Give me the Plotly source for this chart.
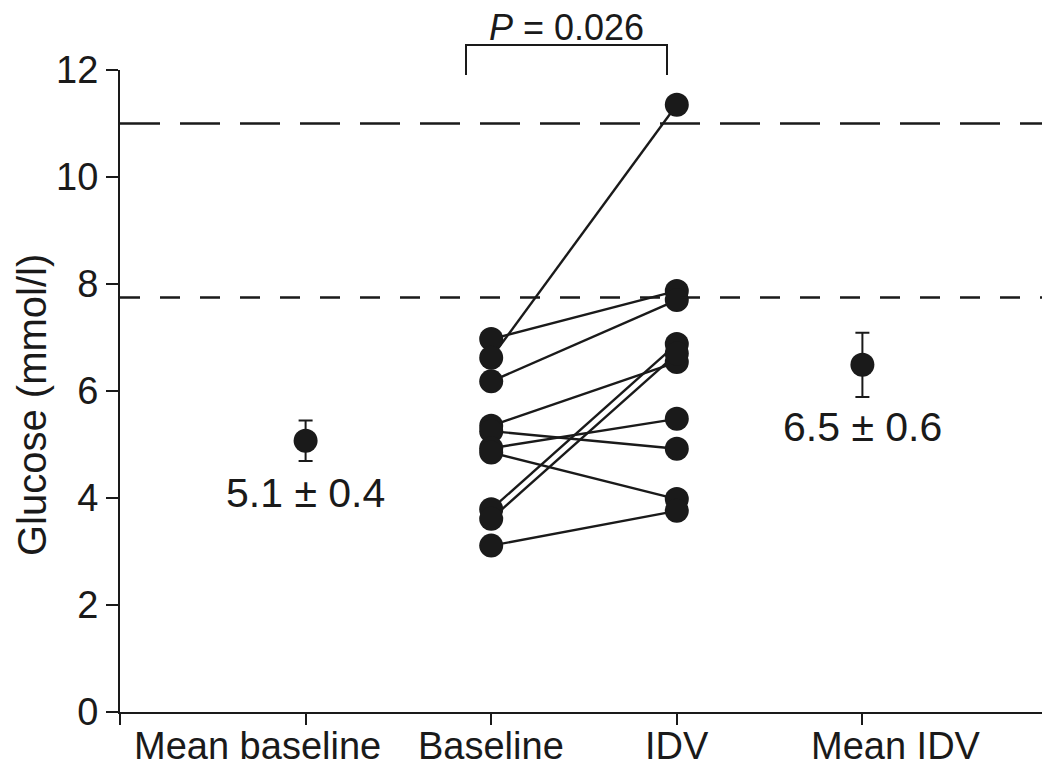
import plotly.graph_objects as go

# ---- data ----
categories = ["Mean baseline", "Baseline", "IDV", "Mean IDV"]
baseline = [6.97, 6.62, 6.18, 5.35, 5.25, 4.93, 4.85, 3.79, 3.61, 3.11]
idv      = [7.87, 11.35, 7.70, 6.54, 4.92, 5.48, 3.98, 6.88, 6.70, 3.76]
mean_values = [5.07, 6.49]
mean_errors = [0.38, 0.60]
mean_labels = ["5.1 ± 0.4", "6.5 ± 0.6"]
threshold_high = 11.0
threshold_low = 7.75
p_label = "<i>P</i>\u00a0=\u00a00.026"
y_ticks = [0, 2, 4, 6, 8, 10, 12]

# ---- layout constants (page body has an 8px margin) ----
OFF = 8
W, H = 1050 - OFF, 768 - OFF
ML, MR, MT, MB = 120 - OFF, 2, 70 - OFF, 56
PW, PH = W - ML - MR, H - MT - MB
FONT = "Arial, Liberation Sans, sans-serif"
INK = "#1a1a1a"

x_pos = {"Mean baseline": 1, "Baseline": 2, "IDV": 3, "Mean IDV": 4}
label_x = {"Mean baseline": 0.74, "Baseline": 2, "IDV": 3, "Mean IDV": 4.18}


def px_x(p):
    """reference-screen pixel x -> paper fraction"""
    return (p - OFF - ML) / PW


def px_y(p):
    """reference-screen pixel y -> paper fraction"""
    return (H - MB - (p - OFF)) / PH


fig = go.Figure()

# paired lines
for b, v in zip(baseline, idv):
    fig.add_trace(go.Scatter(
        x=[x_pos["Baseline"], x_pos["IDV"]], y=[b, v], mode="lines",
        line=dict(color=INK, width=2.4), showlegend=False, hoverinfo="skip"))

# points
fig.add_trace(go.Scatter(
    x=[x_pos["Baseline"]] * len(baseline), y=baseline, mode="markers",
    marker=dict(size=24, color=INK, line=dict(width=0)), showlegend=False))
fig.add_trace(go.Scatter(
    x=[x_pos["IDV"]] * len(idv), y=idv, mode="markers",
    marker=dict(size=24, color=INK, line=dict(width=0)), showlegend=False))

# means with error bars
fig.add_trace(go.Scatter(
    x=[x_pos["Mean baseline"], x_pos["Mean IDV"]], y=mean_values, mode="markers",
    marker=dict(size=24, color=INK, line=dict(width=0)),
    error_y=dict(type="data", array=mean_errors, visible=True,
                 color=INK, thickness=2, width=7),
    showlegend=False))

# threshold lines
fig.add_shape(type="line", xref="x", yref="y", x0=0, x1=5,
              y0=threshold_high, y1=threshold_high,
              line=dict(color=INK, width=2.5, dash="40px,20px"))
fig.add_shape(type="line", xref="x", yref="y", x0=0, x1=5,
              y0=threshold_low, y1=threshold_low,
              line=dict(color=INK, width=2.5, dash="20px,20px"))

# mean labels
fig.add_annotation(x=x_pos["Mean baseline"], y=4.09, xref="x", yref="y",
                   text=mean_labels[0], showarrow=False,
                   font=dict(family=FONT, size=41, color=INK))
fig.add_annotation(x=x_pos["Mean IDV"], y=5.33, xref="x", yref="y",
                   text=mean_labels[1], showarrow=False,
                   font=dict(family=FONT, size=41, color=INK))

# category labels
for c in categories:
    fig.add_annotation(x=label_x[c], y=px_y(746), xref="x", yref="paper",
                       text=c, showarrow=False, yanchor="middle",
                       font=dict(family=FONT, size=38, color=INK))

# significance bracket
bx0, bx1, by_top, by_bot = px_x(466), px_x(667), px_y(45), px_y(75)
fig.add_shape(type="path", xref="paper", yref="paper",
              path=f"M {bx0} {by_bot} L {bx0} {by_top} L {bx1} {by_top} L {bx1} {by_bot}",
              line=dict(color=INK, width=2))
fig.add_annotation(x=px_x(566), y=px_y(50), xref="paper", yref="paper",
                   text=p_label, showarrow=False, yanchor="bottom",
                   font=dict(family=FONT, size=36, color=INK))

# y axis title
fig.add_annotation(x=px_x(32), y=px_y(405), xref="paper", yref="paper",
                   text="Glucose (mmol/l)", textangle=-90, showarrow=False,
                   xanchor="center", yanchor="middle",
                   font=dict(family=FONT, size=40, color=INK))

fig.update_layout(
    width=W, height=H,
    margin=dict(l=ML, r=MR, t=MT, b=MB),
    paper_bgcolor="white", plot_bgcolor="white",
    font=dict(family=FONT, size=38, color=INK),
    xaxis=dict(range=[0, 5], tickvals=[0, 1, 2, 3, 4, 5], ticktext=[""] * 6,
               showgrid=False, zeroline=False, showline=True, linecolor=INK,
               linewidth=2, ticks="outside", ticklen=11, tickwidth=2,
               tickcolor=INK),
    yaxis=dict(range=[0, 12], tickvals=y_ticks, showgrid=False, zeroline=False,
               showline=True, linecolor=INK, linewidth=2, ticks="outside",
               ticklen=12, tickwidth=2, tickcolor=INK,
               tickfont=dict(family=FONT, size=38, color=INK)),
)

fig.write_html("out.html")
